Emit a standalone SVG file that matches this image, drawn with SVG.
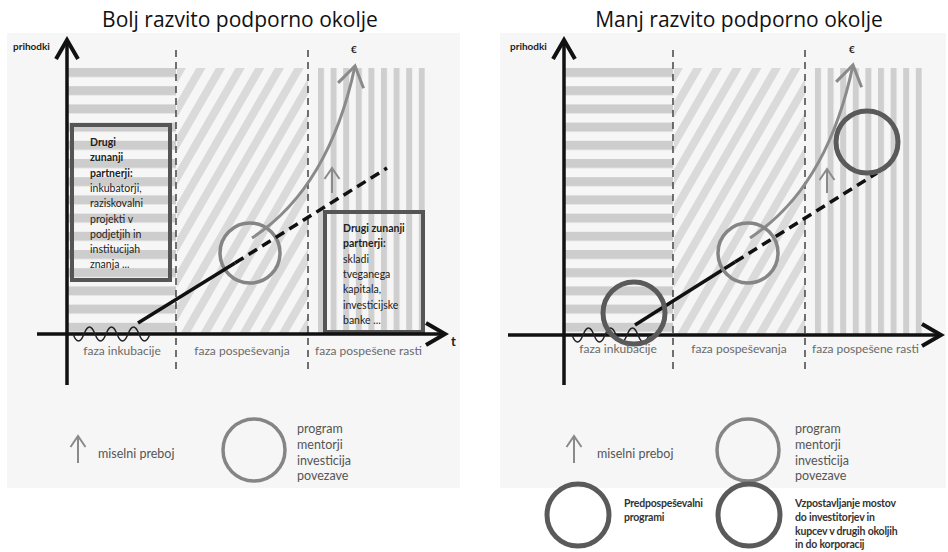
<svg xmlns="http://www.w3.org/2000/svg" width="948" height="552" viewBox="0 0 948 552">
<style>
.title{font-family:"Open Sans","Liberation Sans",sans-serif;font-size:21px;fill:#111}
.ylab{font-family:Lato,"Liberation Sans",sans-serif;font-size:10px;font-weight:bold;fill:#222}
.tl{font-family:Lato,"Liberation Sans",sans-serif;font-size:13px;font-weight:bold;fill:#222}
.phase{font-family:Lato,"Liberation Sans",sans-serif;font-size:12px;fill:#6a6a6a}
.box{fill:none;stroke:#555;stroke-width:4}
.boxt{font-family:Lato,"Liberation Sans",sans-serif;font-size:10.5px;fill:#222}
.b{font-weight:bold}
.axis{stroke:#111;stroke-width:3.5;fill:none}
.div{stroke:#444;stroke-width:1.5;stroke-dasharray:7 5}
.wave{fill:none;stroke:#222;stroke-width:1.5}
.trend{stroke:#111;stroke-width:3.5;fill:none}
.dash{stroke-dasharray:10 6}
.curve{fill:none;stroke:#8a8a8a;stroke-width:3}
.small{stroke:#8a8a8a;stroke-width:2}
.cmid{fill:none;stroke:#858585;stroke-width:3.5}
.cdark{fill:none;stroke:#5a5a5a;stroke-width:5}
.leg{font-family:Lato,"Liberation Sans",sans-serif;font-size:12.5px;fill:#555}
.legd{font-family:Lato,"Liberation Sans",sans-serif;font-size:10.5px;font-weight:bold;fill:#333;letter-spacing:-0.2px}
</style>
<defs>
<pattern id="hs" patternUnits="userSpaceOnUse" width="20" height="18.2" y="68"><rect width="20" height="9" fill="#cdcdcd"/></pattern>
<pattern id="ds" patternUnits="userSpaceOnUse" width="17" height="17" patternTransform="rotate(30)"><rect width="8" height="17" fill="#dadada"/></pattern>
<pattern id="vs" patternUnits="userSpaceOnUse" width="12.6" height="10" x="318"><rect width="6" height="10" fill="#cfcfcf"/></pattern>
<marker id="axh" markerUnits="userSpaceOnUse" viewBox="-4 -14 28 28" markerWidth="28" markerHeight="28" refX="20" refY="0" orient="auto" overflow="visible"><path d="M1,-11 L20,0 L1,11" fill="none" stroke="#111" stroke-width="4"/></marker>
<marker id="cuh" markerUnits="userSpaceOnUse" viewBox="-4 -16 28 32" markerWidth="28" markerHeight="32" refX="20" refY="0" orient="auto" overflow="visible"><path d="M0,-13 L20,0 L0,13" fill="none" stroke="#8a8a8a" stroke-width="3"/></marker>
<marker id="smh" markerUnits="userSpaceOnUse" viewBox="-2 -10 16 20" markerWidth="16" markerHeight="20" refX="11" refY="0" orient="auto" overflow="visible"><path d="M0,-7.5 L11,0 L0,7.5" fill="none" stroke="#8a8a8a" stroke-width="2"/></marker>
</defs>

<rect x="7" y="33" width="453" height="455" fill="#f6f6f6"/>
<rect x="500" y="33" width="446" height="455" fill="#f6f6f6"/>

<text class="title" x="240" y="27" text-anchor="middle">Bolj razvito podporno okolje</text>
<text class="title" x="739" y="27" text-anchor="middle">Manj razvito podporno okolje</text>

<!-- LEFT PANEL -->
<g id="left-panel">
  <g id="left-zones">
    <rect x="68" y="68" width="108" height="266" fill="url(#hs)"/>
    <rect x="177" y="68" width="131" height="266" fill="url(#ds)"/>
    <rect x="318" y="68" width="107" height="266" fill="url(#vs)"/>
    <line class="div" x1="176" y1="50" x2="176" y2="370"/>
    <line class="div" x1="308" y1="50" x2="308" y2="370"/>
  </g>
  <g id="left-box1">
    <rect class="box" x="72" y="125" width="98" height="155"/>
    <text class="boxt" x="90"><tspan class="b" y="146">Drugi</tspan><tspan class="b" x="90" y="161">zunanji</tspan><tspan class="b" x="90" y="176.5">partnerji:</tspan><tspan x="90" y="192">inkubatorji,</tspan><tspan x="90" y="207">raziskovalni</tspan><tspan x="90" y="222.5">projekti v</tspan><tspan x="90" y="238">podjetjih in</tspan><tspan x="90" y="253">institucijah</tspan><tspan x="90" y="268">znanja ...</tspan></text>
  </g>
  <g id="left-box2">
    <rect class="box" x="325" y="212" width="98" height="120"/>
    <text class="boxt" x="343"><tspan class="b" y="232">Drugi zunanji</tspan><tspan class="b" x="343" y="247">partnerji:</tspan><tspan x="343" y="263">skladi</tspan><tspan x="343" y="278">tveganega</tspan><tspan x="343" y="293">kapitala,</tspan><tspan x="343" y="309">investicijske</tspan><tspan x="343" y="324">banke ...</tspan></text>
  </g>
  <g id="left-circle">
    <circle class="cmid" cx="250" cy="253" r="30"/>
  </g>
  <g id="left-connectors">
    <line class="axis" x1="67" y1="385" x2="67" y2="40" marker-end="url(#axh)"/>
    <line class="axis" x1="37" y1="334" x2="445" y2="334" marker-end="url(#axh)"/>
    <path class="wave" d="M73,334 q5.5,14 11,0 q5.5,-14 11,0 q5.5,14 11,0 q5.5,-14 11,0 q5.5,14 11,0 q5.5,-14 11,0 q5.5,14 11,0"/>
    <line class="trend" x1="138" y1="323" x2="235" y2="263"/>
    <line class="trend dash" x1="235" y1="263" x2="387" y2="168"/>
    <path class="curve" d="M252,238 C295,210 335,160 355,66" marker-end="url(#cuh)"/>
    <line class="small" x1="332" y1="193" x2="332" y2="168" marker-end="url(#smh)"/>
  </g>
  <text class="ylab" x="13" y="50">prihodki</text>
  <text class="ylab" x="351" y="53">€</text>
  <text class="tl" x="451" y="346">t</text>
  <text class="phase" x="122" y="355" text-anchor="middle">faza inkubacije</text>
  <text class="phase" x="242" y="355" text-anchor="middle">faza pospeševanja</text>
  <text class="phase" x="315" y="355">faza pospešene rasti</text>
</g>

<!-- RIGHT PANEL -->
<g id="right-panel" transform="translate(497,0)">
  <g id="right-zones">
    <rect x="68" y="68" width="108" height="267" fill="url(#hs)"/>
    <rect x="177" y="68" width="131" height="267" fill="url(#ds)"/>
    <rect x="318" y="68" width="107" height="267" fill="url(#vs)"/>
    <line class="div" x1="176" y1="50" x2="176" y2="370"/>
    <line class="div" x1="308" y1="50" x2="308" y2="370"/>
  </g>
  <g id="right-connectors">
    <line class="axis" x1="67" y1="385" x2="67" y2="40" marker-end="url(#axh)"/>
    <line class="axis" x1="11" y1="335" x2="444" y2="335" marker-end="url(#axh)"/>
    <path class="wave" d="M75,335 q5.5,14 11,0 q5.5,-14 11,0 q5.5,14 11,0 q5.5,-14 11,0 q5.5,14 11,0 q5.5,-14 11,0 q5.5,14 11,0"/>
    <line class="trend" x1="138" y1="325" x2="238" y2="262"/>
    <line class="trend dash" x1="238" y1="262" x2="380" y2="173"/>
    <path class="curve" d="M253,238 C296,210 336,160 356,65" marker-end="url(#cuh)"/>
    <line class="small" x1="330" y1="193" x2="330" y2="169" marker-end="url(#smh)"/>
  </g>
  <g id="right-circle-pre">
    <circle class="cdark" cx="137" cy="313" r="31"/>
  </g>
  <g id="right-circle-mid">
    <circle class="cmid" cx="251" cy="253" r="30"/>
  </g>
  <g id="right-circle-bridge">
    <circle class="cdark" cx="370" cy="142" r="31"/>
  </g>
  <text class="ylab" x="13" y="50">prihodki</text>
  <text class="ylab" x="352" y="53">€</text>
  <text class="phase" x="121" y="353" text-anchor="middle">faza inkubacije</text>
  <text class="phase" x="242" y="353" text-anchor="middle">faza pospeševanja</text>
  <text class="phase" x="315" y="353">faza pospešene rasti</text>
</g>

<!-- LEGENDS -->
<g id="legend-left-arrow">
  <line class="small" x1="78" y1="463" x2="78" y2="436" marker-end="url(#smh)"/>
  <text class="leg" x="98" y="458">miselni preboj</text>
</g>
<g id="legend-left-circle">
  <circle class="cmid" cx="254" cy="450" r="31"/>
  <text class="leg" x="297"><tspan y="433">program</tspan><tspan x="297" y="449">mentorji</tspan><tspan x="297" y="465">investicija</tspan><tspan x="297" y="480">povezave</tspan></text>
</g>
<g id="legend-right-arrow">
  <line class="small" x1="574" y1="463" x2="574" y2="436" marker-end="url(#smh)"/>
  <text class="leg" x="597" y="458">miselni preboj</text>
</g>
<g id="legend-right-circle">
  <circle class="cmid" cx="748" cy="450" r="31"/>
  <text class="leg" x="795"><tspan y="433">program</tspan><tspan x="795" y="449">mentorji</tspan><tspan x="795" y="465">investicija</tspan><tspan x="795" y="480">povezave</tspan></text>
</g>
<g id="legend-pre">
  <circle class="cdark" cx="578" cy="515" r="31"/>
  <text class="legd" x="624"><tspan y="507">Predpospeševalni</tspan><tspan x="624" y="521">programi</tspan></text>
</g>
<g id="legend-bridge">
  <circle class="cdark" cx="749" cy="515" r="31"/>
  <text class="legd" x="795"><tspan y="507">Vzpostavljanje mostov</tspan><tspan x="795" y="521">do investitorjev in</tspan><tspan x="795" y="535">kupcev v drugih okoljih</tspan><tspan x="795" y="548">in do korporacij</tspan></text>
</g>
</svg>
